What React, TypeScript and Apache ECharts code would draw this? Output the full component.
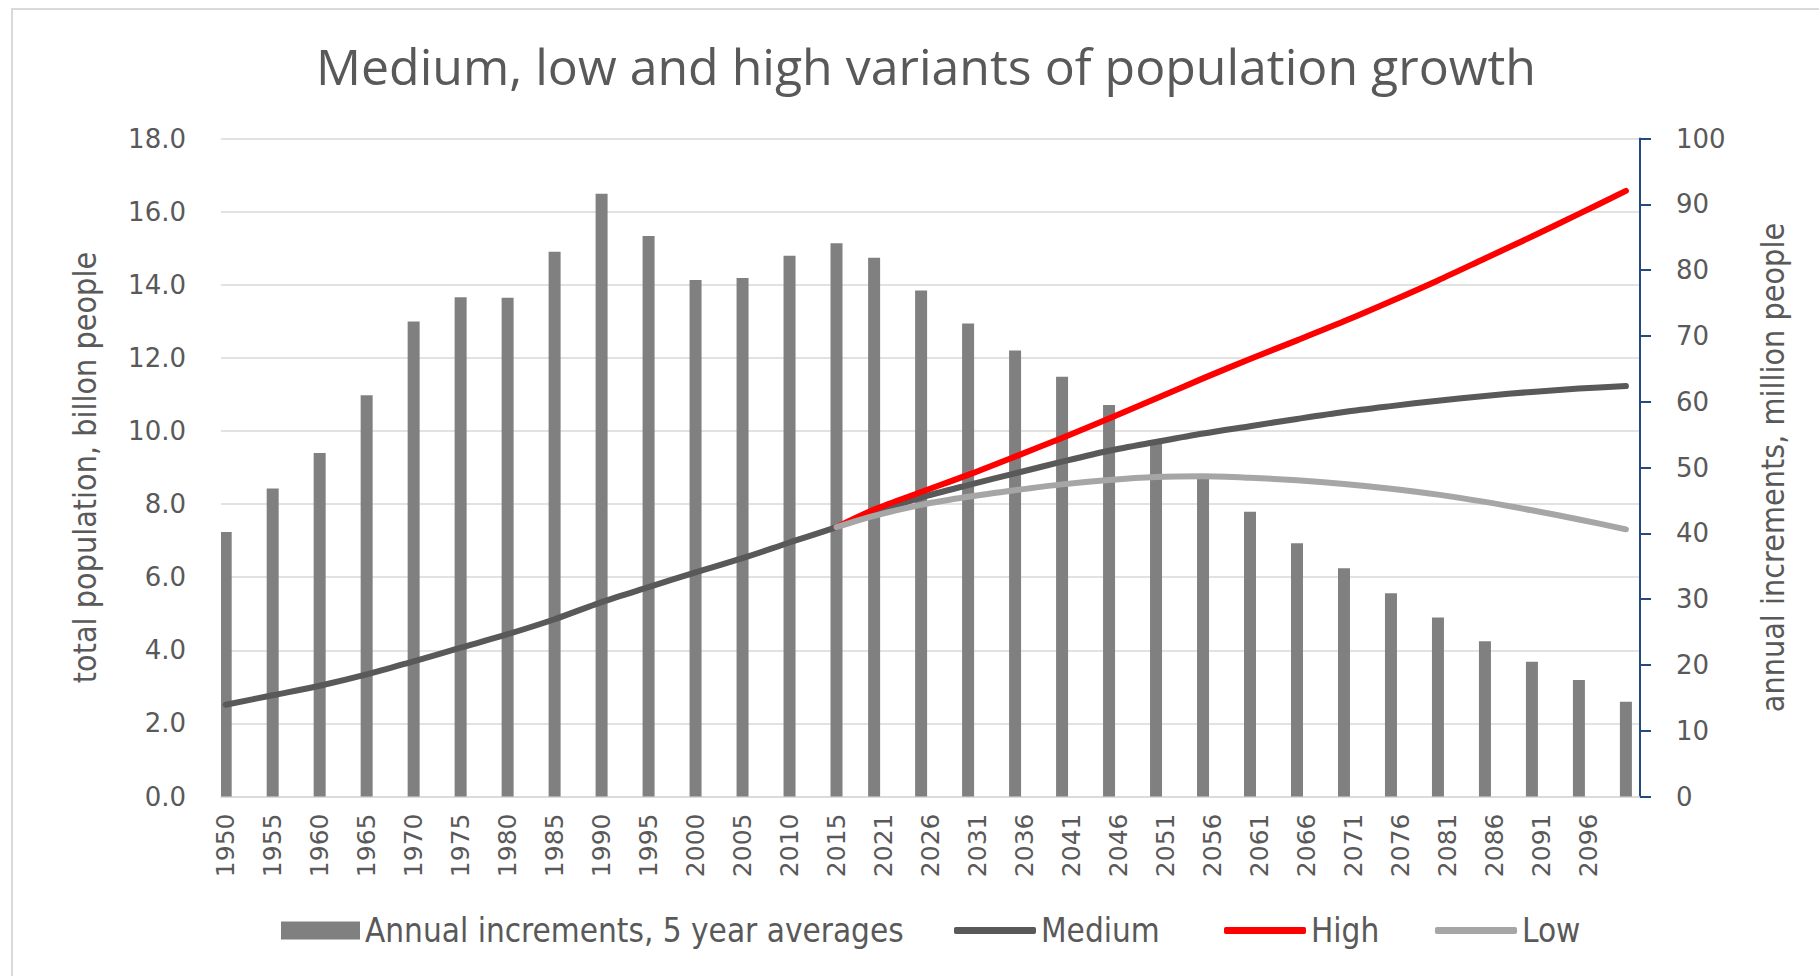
import React, { useEffect, useRef } from "react";
import * as echarts from "echarts";

// Category axis: annual years as in the source sheet (2020 row absent), plus a trailing blank row
const CATEGORIES: string[] = (() => {
  const c: string[] = [];
  for (let y = 1950; y <= 2019; y++) c.push(String(y));
  for (let y = 2021; y <= 2100; y++) c.push(String(y));
  c.push("");
  return c;
})();

// Years (categories) at which values are plotted
const POINT_YEARS = [
  1950, 1955, 1960, 1965, 1970, 1975, 1980, 1985, 1990, 1995, 2000, 2005, 2010, 2015,
  2019, 2025, 2030, 2035, 2040, 2045, 2050, 2055, 2060, 2065, 2070, 2075, 2080, 2085, 2090, 2095, 2100,
];

// Annual increments, million people (right axis)
const INCREMENTS = [
  40.2, 46.8, 52.2, 61.0, 72.2, 75.9, 75.8, 82.8, 91.6, 85.2, 78.5, 78.8, 82.2, 84.1,
  81.9, 76.9, 71.9, 67.8, 63.8, 59.5, 54.2, 48.5, 43.3, 38.5, 34.7, 30.9, 27.2, 23.6, 20.5, 17.7, 14.4,
];

// Total population, billion people (left axis)
const MEDIUM = [
  2.51, 2.77, 3.03, 3.34, 3.70, 4.07, 4.44, 4.85, 5.32, 5.73, 6.13, 6.52, 6.95, 7.37,
  7.76, 8.18, 8.52, 8.84, 9.16, 9.46, 9.70, 9.93, 10.13, 10.33, 10.52, 10.68, 10.83, 10.96, 11.07, 11.16, 11.23,
];
const HIGH = [
  null, null, null, null, null, null, null, null, null, null, null, null, null, 7.37,
  7.85, 8.33, 8.80, 9.30, 9.81, 10.34, 10.89, 11.44, 11.97, 12.48, 13.00, 13.55, 14.12, 14.72, 15.32, 15.94, 16.57,
];
const LOW = [
  null, null, null, null, null, null, null, null, null, null, null, null, null, 7.37,
  7.68, 7.98, 8.20, 8.38, 8.54, 8.66, 8.74, 8.76, 8.72, 8.65, 8.55, 8.42, 8.26, 8.06, 7.83, 7.58, 7.31,
];

const TITLE = "Medium, low and high variants of population growth";
const LEFT_NAME = "total population, billon people";
const RIGHT_NAME = "annual increments, million people";
const S_BAR = "Annual increments, 5 year averages";
const S_MED = "Medium";
const S_HIGH = "High";
const S_LOW = "Low";

const pairs = (vals: (number | null)[]) =>
  POINT_YEARS.map((y, i) => [String(y), vals[i]] as [string, number | null]).filter((p) => p[1] !== null);

const TEXT = "#595959";
const TICK_FONT = "'DejaVu Sans', Verdana, sans-serif";
const NARROW_FONT = "'Liberation Sans Narrow', 'DejaVu Sans Condensed', 'Open Sans', sans-serif";

export default function App() {
  const ref = useRef<HTMLDivElement>(null);
  useEffect(() => {
    if (!ref.current) return;
    const chart = echarts.init(ref.current, undefined, { renderer: "svg" });
    const legendBase = {
      top: 914,
      padding: 0,
      itemGap: 0,
      textStyle: { color: TEXT, fontFamily: NARROW_FONT, fontSize: 33 },
      selectedMode: false,
    };
    const lineLegend = (name: string, color: string, left: number) => ({
      ...legendBase,
      left,
      itemWidth: 82,
      itemHeight: 7,
      data: [{ name, icon: "roundRect", itemStyle: { color, borderWidth: 0 } }],
    });
    chart.setOption({
      animation: false,
      backgroundColor: "#ffffff",
      graphic: [
        {
          type: "rect",
          shape: { x: 12, y: 9, width: 1830, height: 990 },
          style: { fill: "none", stroke: "#D9D9D9", lineWidth: 2 },
          silent: true,
        },
        {
          type: "text",
          x: 926,
          y: 66,
          style: {
            text: TITLE,
            fill: TEXT,
            font: "50px 'Open Sans', sans-serif",
            align: "center",
            verticalAlign: "middle",
          },
        },
      ],
      legend: [
        {
          ...legendBase,
          left: 281,
          itemWidth: 79,
          itemHeight: 18,
          data: [{ name: S_BAR, icon: "rect", itemStyle: { color: "#808080" } }],
        },
        lineLegend(S_MED, "#595959", 954),
        lineLegend(S_HIGH, "#FF0000", 1224),
        lineLegend(S_LOW, "#A6A6A6", 1435),
      ],
      grid: { left: 221, right: 179, top: 138.6, bottom: 179.5, containLabel: false },
      xAxis: {
        type: "category",
        data: CATEGORIES,
        boundaryGap: true,
        axisLine: { show: true, lineStyle: { color: "#D9D9D9", width: 1.5 } },
        axisTick: { show: false },
        axisLabel: {
          interval: 4,
          rotate: 90,
          margin: 17,
          color: TEXT,
          fontFamily: TICK_FONT,
          fontSize: 25,
        },
      },
      yAxis: [
        {
          type: "value",
          min: 0,
          max: 18,
          interval: 2,
          position: "left",
          name: LEFT_NAME,
          nameLocation: "middle",
          nameGap: 120,
          nameTextStyle: { color: TEXT, fontFamily: NARROW_FONT, fontSize: 32 },
          axisLine: { show: false },
          axisTick: { show: false },
          splitLine: { show: true, lineStyle: { color: "#D9D9D9", width: 1.5 } },
          axisLabel: {
            margin: 35,
            color: TEXT,
            fontFamily: TICK_FONT,
            fontSize: 26,
            formatter: (v: number) => v.toFixed(1),
          },
        },
        {
          type: "value",
          min: 0,
          max: 100,
          interval: 10,
          position: "right",
          name: RIGHT_NAME,
          nameLocation: "middle",
          nameGap: 117,
          nameTextStyle: { color: TEXT, fontFamily: NARROW_FONT, fontSize: 32 },
          axisLine: { show: true, lineStyle: { color: "#24497E", width: 2 } },
          axisTick: { show: true, length: 11, inside: false, lineStyle: { color: "#24497E", width: 2 } },
          splitLine: { show: false },
          axisLabel: {
            margin: 36,
            color: TEXT,
            fontFamily: TICK_FONT,
            fontSize: 26,
          },
        },
      ],
      series: [
        {
          name: S_BAR,
          type: "bar",
          yAxisIndex: 1,
          barWidth: 12,
          itemStyle: { color: "#808080" },
          data: pairs(INCREMENTS),
        },
        {
          name: S_MED,
          type: "line",
          yAxisIndex: 0,
          symbol: "none",
          showSymbol: false,
          smooth: 0.3,
          lineStyle: { color: "#595959", width: 6, cap: "round", join: "round" },
          itemStyle: { color: "#595959" },
          data: pairs(MEDIUM),
        },
        {
          name: S_HIGH,
          type: "line",
          yAxisIndex: 0,
          symbol: "none",
          showSymbol: false,
          smooth: 0.3,
          lineStyle: { color: "#FF0000", width: 6, cap: "round", join: "round" },
          itemStyle: { color: "#FF0000" },
          data: pairs(HIGH),
        },
        {
          name: S_LOW,
          type: "line",
          yAxisIndex: 0,
          symbol: "none",
          showSymbol: false,
          smooth: 0.3,
          lineStyle: { color: "#A6A6A6", width: 6, cap: "round", join: "round" },
          itemStyle: { color: "#A6A6A6" },
          data: pairs(LOW),
        },
      ],
    });
    return () => chart.dispose();
  }, []);
  return (
    <div
      ref={ref}
      style={{ position: "fixed", left: 0, top: 0, width: 1819, height: 976, background: "#fff" }}
    />
  );
}
